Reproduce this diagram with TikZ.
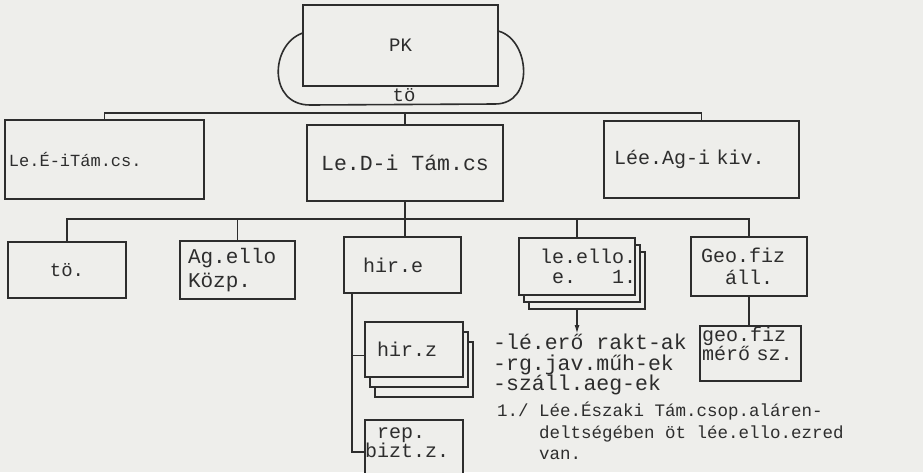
\documentclass[tikz,border=0pt]{standalone}
\usepackage{fontspec}
\setmonofont{Liberation Mono}
\usetikzlibrary{arrows.meta,positioning,shadows}
\definecolor{paper}{RGB}{238,238,235}
\definecolor{ink}{RGB}{45,45,45}

\begin{document}
\begin{tikzpicture}[
    x=1pt, y=-1pt,
    every node/.style={text=ink, font=\ttfamily\fontsize{20}{22}\selectfont},
    box/.style={draw=ink, line width=1.6pt, fill=paper, inner sep=0pt, align=center},
    lbox/.style={box, align=left, text width=#1},
    every shadow/.style={draw=ink, fill=paper, line width=1.6pt},
    stack/.style 2 args={double copy shadow={shadow xshift=#1, shadow yshift=#2}},
    note/.style={align=left, inner sep=0pt, anchor=north west},
    link/.style={draw=ink, line width=1.6pt},
    >={Latex[length=9pt, width=5pt]}
  ]
  \useasboundingbox (0,0) rectangle (923,472);
  \fill[paper] (0,0) rectangle (923,472);

  % top
  \node[box, minimum width=195pt, minimum height=81pt, font=\ttfamily\fontsize{19}{21}\selectfont] (pk) at (400.5,45.5) {PK};
  \draw[link] ([yshift=-29pt]pk.north west) .. controls (270,45) and (268,105) .. (310,105) -- (495,104) .. controls (535,104) and (530,40) .. ([yshift=-27pt]pk.north east);
  \node[inner sep=0pt, font=\ttfamily\fontsize{19}{21}\selectfont] (pkto) at (404,95) {tö};

  % first level
  \node[lbox=191pt, minimum width=199pt, minimum height=79pt, font=\ttfamily\fontsize{17}{20}\selectfont] (lee) at (104.5,159.5) {Le.É-iTám.cs.};
  \node[box, minimum width=196pt, minimum height=76pt, font=\ttfamily\fontsize{21.5}{23}\selectfont] (led) at (405,163) {Le.D-i Tám.cs};
  \node[lbox=175pt, minimum width=195pt, minimum height=77pt] (leeag) at (701.5,159.5) {Lée.Ag-i kiv.};

  % second level
  \node[box, minimum width=118pt, minimum height=56pt, font=\ttfamily\fontsize{19}{21}\selectfont] (to) at (67,270) {tö.};
  \node[lbox=99pt, minimum width=115pt, minimum height=58pt, font=\ttfamily\fontsize{21}{24}\selectfont] (agello) at (237.5,270) {Ag.ello\\Közp.};
  \node[lbox=79pt, minimum width=117pt, minimum height=56pt] (hire) at (402.5,265) {hir.e};
  \node[lbox=74pt, minimum width=116pt, minimum height=57pt, stack={5pt}{-7pt}, font=\ttfamily\fontsize{20}{19.5}\selectfont] (leello) at (577,266.5) {le.ello.\\\phantom{l}e.\phantom{xxx}1.};
  \node[lbox=96pt, minimum width=116pt, minimum height=59pt] (geoall) at (749,266.5) {Geo.fiz\\\phantom{xx}áll.};

  % third level
  \node[lbox=74pt, minimum width=98pt, minimum height=55pt, stack={5pt}{-10pt}] (hirz) at (414,349.5) {hir.z};
  \node[lbox=98pt, minimum width=98pt, minimum height=64pt, font=\ttfamily\fontsize{20}{19}\selectfont] (rep) at (414,452) {\phantom{x}rep.\\bizt.z.\\\phantom{x}};
  \node[lbox=97pt, minimum width=101pt, minimum height=55pt, font=\ttfamily\fontsize{20}{19}\selectfont] (geofiz) at (750.5,353.5) {geo.fiz\\mérő sz.\\\phantom{x}};

  \node[note, font=\ttfamily\fontsize{21.5}{20.5}\selectfont] (works) at (493,334) {-lé.erő rakt-ak\\-rg.jav.műh-ek\\-száll.aeg-ek};
  \node[note, font=\ttfamily\fontsize{17.5}{21.5}\selectfont] (footnote) at (497,402) {1./ Lée.Északi Tám.csop.aláren-\\\phantom{1./ }deltségében öt lée.ello.ezred\\\phantom{1./ }van.};

  % lines
  \coordinate (bus1) at (405,113);
  \draw[link] (lee.north) |- (bus1) -| (leeag.north);
  \draw[link] (bus1) -- (led.north);
  \coordinate (bus2) at (405,219);
  \draw[link] (to.north) |- (bus2) -| (geoall.north);
  \draw[link] (agello.north) -- (agello.north |- bus2);
  \draw[link] (leello.north) -- (leello.north |- bus2);
  \draw[link] (led.south) -- (led.south |- hire.north);
  \coordinate (trunk) at ([xshift=9pt]hire.south west);
  \draw[link] (trunk) |- ([yshift=-6pt]hirz.west);
  \draw[link] (trunk) |- (rep.west);
  \draw[link] (geoall.south) -- (geoall.south |- geofiz.north);
  \draw[link, ->] ([yshift=-14pt]leello.south) -- (leello.south |- works.north);
\end{tikzpicture}
\end{document}
